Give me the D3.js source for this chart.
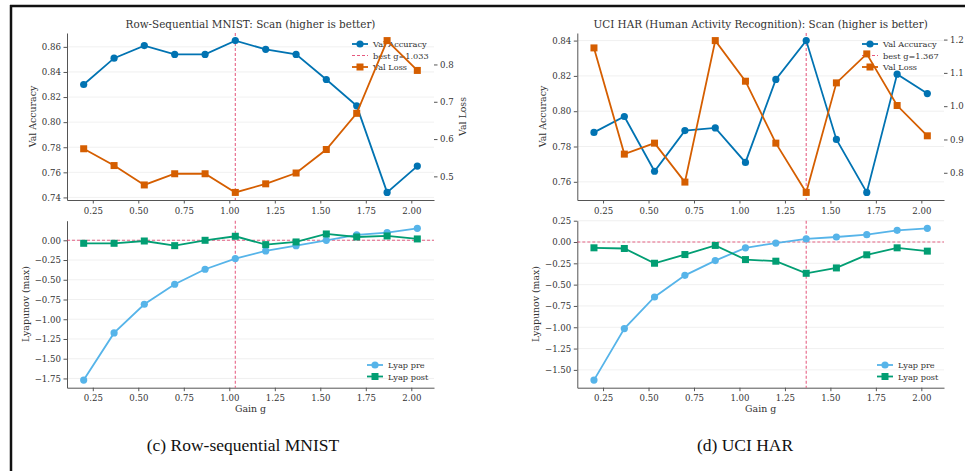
<!DOCTYPE html>
<html>
<head>
<meta charset="utf-8">
<script src="https://cdn.jsdelivr.net/npm/d3@7"></script>
<style>
body { margin: 0; background: #fff; }
svg text { font-family: "DejaVu Serif", serif; fill: #333; }
svg text.caption { font-family: "Liberation Serif", "Times New Roman", serif; fill: #111; }
</style>
</head>
<body>
<svg id="chart" width="965" height="471"></svg>
<script>
// gain values scanned (shared by both datasets)
const gains = [0.2, 0.367, 0.533, 0.7, 0.867, 1.033, 1.2, 1.367, 1.533, 1.7, 1.867, 2.033];
const xTicks = [0.25, 0.5, 0.75, 1.0, 1.25, 1.5, 1.75, 2.0];

// Row-sequential MNIST
const mnistAcc = [0.830, 0.851, 0.861, 0.854, 0.854, 0.865, 0.858, 0.854, 0.834, 0.813, 0.744, 0.765];
const mnistLoss = [0.574, 0.529, 0.477, 0.507, 0.507, 0.457, 0.480, 0.509, 0.572, 0.669, 0.864, 0.784];
const mnistLyapPre = [-1.771, -1.173, -0.810, -0.557, -0.367, -0.232, -0.135, -0.068, 0.000, 0.068, 0.097, 0.152];
const mnistLyapPost = [-0.038, -0.038, -0.009, -0.068, 0.000, 0.051, -0.055, -0.021, 0.080, 0.042, 0.055, 0.017];
const mnistBestG = 1.033;
const mnistAccTicks = [0.74, 0.76, 0.78, 0.80, 0.82, 0.84, 0.86];
const mnistLossTicks = [0.5, 0.6, 0.7, 0.8];
const mnistLyapTicks = [-1.75, -1.5, -1.25, -1.0, -0.75, -0.5, -0.25, 0.0];

// UCI HAR
const harAcc = [0.788, 0.797, 0.766, 0.789, 0.7905, 0.771, 0.818, 0.840, 0.784, 0.754, 0.821, 0.810];
const harLoss = [1.175, 0.856, 0.889, 0.772, 1.197, 1.075, 0.889, 0.741, 1.070, 1.157, 1.002, 0.911];
const harLyapPre = [-1.62, -1.015, -0.645, -0.391, -0.218, -0.068, -0.012, 0.036, 0.059, 0.086, 0.137, 0.161];
const harLyapPost = [-0.068, -0.076, -0.249, -0.147, -0.040, -0.206, -0.225, -0.367, -0.304, -0.150, -0.068, -0.107];
const harBestG = 1.367;
const harAccTicks = [0.76, 0.78, 0.80, 0.82, 0.84];
const harLossTicks = [0.8, 0.9, 1.0, 1.1, 1.2];
const harLyapTicks = [-1.5, -1.25, -1.0, -0.75, -0.5, -0.25, 0.0, 0.25];

const C_ACC = "#0173B2", C_LOSS = "#D55E00", C_PRE = "#56B4E9", C_POST = "#029E73";
const C_REF = "#e0305f";

const svg = d3.select("#chart");

// frame around the figure
svg.append("line").attr("x1", 10).attr("x2", 965).attr("y1", 6).attr("y2", 6)
    .attr("stroke", "#111").attr("stroke-width", 2.5);
svg.append("line").attr("x1", 11).attr("x2", 11).attr("y1", 5).attr("y2", 471)
    .attr("stroke", "#111").attr("stroke-width", 2.5);

function padded(vals) {
    const [lo, hi] = d3.extent(vals);
    const m = (hi - lo) * 0.05;
    return [lo - m, hi + m];
}

function styleAxis(g) {
    g.selectAll("path.domain").attr("stroke", "#555").attr("stroke-width", 1);
    g.selectAll(".tick line").attr("stroke", "#555");
    g.selectAll(".tick text").style("font-size", "8.6px").attr("fill", "#444")
        .style("font-family", "DejaVu Serif, serif");
}

function squares(g, pts, x, y, color) {
    g.selectAll(null).data(pts).enter().append("rect")
        .attr("x", d => x(d[0]) - 3.5).attr("y", d => y(d[1]) - 3.5)
        .attr("width", 7).attr("height", 7).attr("fill", color);
}

function circles(g, pts, x, y, color) {
    g.selectAll(null).data(pts).enter().append("circle")
        .attr("cx", d => x(d[0])).attr("cy", d => y(d[1])).attr("r", 3.6).attr("fill", color);
}

function series(g, vals, x, y, color, marker) {
    const pts = gains.map((gv, i) => [gv, vals[i]]);
    g.append("path").datum(pts)
        .attr("d", d3.line().x(d => x(d[0])).y(d => y(d[1])))
        .attr("fill", "none").attr("stroke", color).attr("stroke-width", 1.8);
    marker(g, pts, x, y, color);
}

function legend(g, x0, y0, items) {
    items.forEach((it, i) => {
        const row = g.append("g").attr("transform", `translate(${x0},${y0 + i * 11.5})`);
        if (it.dash) {
            row.append("line").attr("x1", 0).attr("x2", 16).attr("stroke", it.color)
                .attr("stroke-width", 1.2).attr("stroke-dasharray", "3,2").attr("opacity", 0.8);
        } else {
            row.append("line").attr("x1", 0).attr("x2", 16).attr("stroke", it.color).attr("stroke-width", 1.8);
            if (it.square) row.append("rect").attr("x", 4.5).attr("y", -3.5).attr("width", 7).attr("height", 7).attr("fill", it.color);
            else row.append("circle").attr("cx", 8).attr("r", 3.6).attr("fill", it.color);
        }
        row.append("text").attr("x", 21).attr("y", 3).style("font-size", "8.2px").text(it.label);
    });
}

function drawPanel(p) {
    const x = d3.scaleLinear().domain(padded(gains)).range([p.left, p.right]);

    // ----- top: accuracy + loss -----
    const yA = d3.scaleLinear().domain(padded(p.acc)).range([200, 33]);
    const yL = d3.scaleLinear().domain(padded(p.loss)).range([200, 33]);
    const top = svg.append("g");

    top.selectAll(null).data(p.accTicks).enter().append("line")
        .attr("x1", p.left).attr("x2", p.right).attr("y1", d => yA(d)).attr("y2", d => yA(d))
        .attr("stroke", "#ececec").attr("stroke-width", 0.8);

    top.append("text").attr("x", (p.left + p.right) / 2).attr("y", 28)
        .attr("text-anchor", "middle").style("font-size", "10.4px").text(p.title);

    top.append("g").attr("transform", "translate(0,200)")
        .call(d3.axisBottom(x).tickValues(xTicks).tickFormat(d3.format(".2f")).tickSize(3.5).tickSizeOuter(0).tickPadding(4))
        .call(styleAxis);
    top.append("g").attr("transform", `translate(${p.left},0)`)
        .call(d3.axisLeft(yA).tickValues(p.accTicks).tickFormat(d3.format(".2f")).tickSize(3.5).tickSizeOuter(0).tickPadding(2.5))
        .call(styleAxis);
    top.append("g").attr("transform", `translate(${p.right},0)`)
        .call(d3.axisRight(yL).tickValues(p.lossTicks).tickFormat(d3.format(".1f")).tickSize(3.5).tickSizeOuter(0).tickPadding(2.5))
        .call(styleAxis)
        .call(g => g.select("path.domain").remove());

    top.append("text").attr("transform", `translate(${p.left - 31.5},116.5) rotate(-90)`)
        .attr("text-anchor", "middle").style("font-size", "9.4px").text("Val Accuracy");
    // the right-hand label of the second panel falls past the page edge in the source
    if (p.right + 31.5 < 960) {
        top.append("text").attr("transform", `translate(${p.right + 31.5},116.5) rotate(-90)`)
            .attr("text-anchor", "middle").style("font-size", "9.4px").text("Val Loss");
    }

    top.append("line").attr("x1", x(p.best)).attr("x2", x(p.best)).attr("y1", 33).attr("y2", 200)
        .attr("stroke", C_REF).attr("stroke-width", 1.1).attr("stroke-dasharray", "3,2").attr("opacity", 0.75);

    series(top, p.acc, x, yA, C_ACC, circles);
    legend(top, p.right - 82, 44, [
        { label: "Val Accuracy", color: C_ACC },
        { label: "best g=" + p.best.toFixed(3), color: C_REF, dash: true },
        { label: "Val Loss", color: C_LOSS, square: true }
    ]);
    series(top, p.loss, x, yL, C_LOSS, squares);

    // ----- bottom: Lyapunov exponents -----
    const yY = d3.scaleLinear().domain(padded(p.lyapPre.concat(p.lyapPost))).range([387.7, 220.7]);
    const bot = svg.append("g");

    bot.selectAll(null).data(p.lyapTicks).enter().append("line")
        .attr("x1", p.left).attr("x2", p.right).attr("y1", d => yY(d)).attr("y2", d => yY(d))
        .attr("stroke", "#ececec").attr("stroke-width", 0.8);

    bot.append("g").attr("transform", "translate(0,387.7)")
        .call(d3.axisBottom(x).tickValues(xTicks).tickFormat(d3.format(".2f")).tickSize(3.5).tickSizeOuter(0).tickPadding(3.5))
        .call(styleAxis);
    bot.append("g").attr("transform", `translate(${p.left},0)`)
        .call(d3.axisLeft(yY).tickValues(p.lyapTicks).tickFormat(d3.format(".2f")).tickSize(3.5).tickSizeOuter(0).tickPadding(2.5))
        .call(styleAxis);

    bot.append("text").attr("transform", `translate(${p.left - 38.5},304) rotate(-90)`)
        .attr("text-anchor", "middle").style("font-size", "9.4px").text("Lyapunov (max)");
    bot.append("text").attr("x", (p.left + p.right) / 2).attr("y", 412)
        .attr("text-anchor", "middle").style("font-size", "9.4px").text("Gain g");

    bot.append("line").attr("x1", p.left).attr("x2", p.right).attr("y1", yY(0)).attr("y2", yY(0))
        .attr("stroke", C_REF).attr("stroke-width", 1.1).attr("stroke-dasharray", "3,2").attr("opacity", 0.75);
    bot.append("line").attr("x1", x(p.best)).attr("x2", x(p.best)).attr("y1", 220.7).attr("y2", 387.7)
        .attr("stroke", C_REF).attr("stroke-width", 1.1).attr("stroke-dasharray", "3,2").attr("opacity", 0.75);

    series(bot, p.lyapPre, x, yY, C_PRE, circles);
    series(bot, p.lyapPost, x, yY, C_POST, squares);
    legend(bot, p.right - 67, 365, [
        { label: "Lyap pre", color: C_PRE },
        { label: "Lyap post", color: C_POST, square: true }
    ]);

    svg.append("text").attr("class", "caption").attr("x", p.captionX).attr("y", 451)
        .attr("text-anchor", "middle").style("font-size", "17.5px").text(p.caption);
}

drawPanel({
    left: 67, right: 434, best: mnistBestG,
    title: "Row-Sequential MNIST: Scan (higher is better)",
    acc: mnistAcc, loss: mnistLoss, lyapPre: mnistLyapPre, lyapPost: mnistLyapPost,
    accTicks: mnistAccTicks, lossTicks: mnistLossTicks, lyapTicks: mnistLyapTicks,
    caption: "(c) Row-sequential MNIST", captionX: 243
});
drawPanel({
    left: 577.3, right: 944, best: harBestG,
    title: "UCI HAR (Human Activity Recognition): Scan (higher is better)",
    acc: harAcc, loss: harLoss, lyapPre: harLyapPre, lyapPost: harLyapPost,
    accTicks: harAccTicks, lossTicks: harLossTicks, lyapTicks: harLyapTicks,
    caption: "(d) UCI HAR", captionX: 745
});
</script>
</body>
</html>
